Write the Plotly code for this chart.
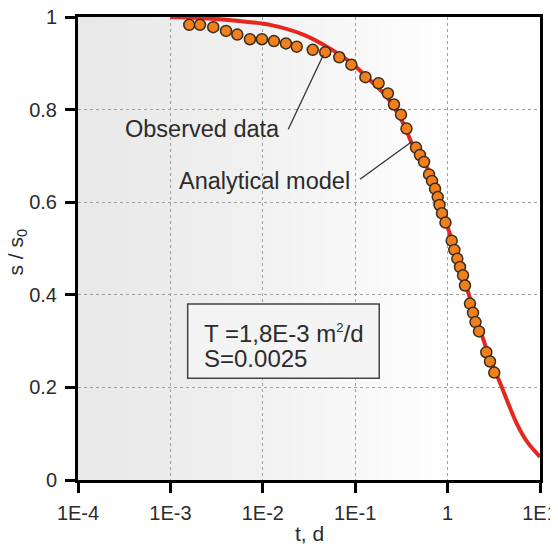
import plotly.graph_objects as go

# ---------------- data ----------------
t_obs = [1.60e-3, 2.09e-3, 2.91e-3, 4.00e-3, 5.30e-3, 7.26e-3, 9.79e-3, 1.32e-2,
         1.78e-2, 2.33e-2, 3.47e-2, 4.74e-2, 6.73e-2, 9.08e-2, 0.129, 0.179,
         0.226, 0.263, 0.313, 0.359, 0.455, 0.502, 0.556, 0.630, 0.678, 0.731,
         0.782, 0.817, 0.869, 0.948, 1.107, 1.183, 1.274, 1.361, 1.469, 1.542,
         1.746, 1.884, 2.004, 2.188, 2.624, 2.877, 3.199]
s_obs = [0.983, 0.983, 0.978, 0.970, 0.962, 0.952, 0.952, 0.948,
         0.943, 0.936, 0.929, 0.924, 0.913, 0.897, 0.870, 0.857,
         0.835, 0.811, 0.789, 0.759, 0.718, 0.702, 0.687, 0.660, 0.646, 0.629,
         0.611, 0.594, 0.576, 0.556, 0.517, 0.497, 0.478, 0.460, 0.442, 0.420,
         0.381, 0.361, 0.341, 0.321, 0.276, 0.256, 0.232]

t_model = [1.0e-3, 2.0e-3, 5.2e-3, 1.2e-2, 2.74e-2, 4.92e-2, 8.79e-2, 0.1445,
           0.219, 0.332, 0.426, 0.646, 0.897, 1.254, 1.61, 2.244, 2.877,
           3.69, 5.60, 7.41, 10.0]
s_model = [1.000, 0.998, 0.992, 0.983, 0.962, 0.936, 0.903, 0.864,
           0.828, 0.770, 0.720, 0.663, 0.576, 0.485, 0.415, 0.325, 0.262,
           0.210, 0.122, 0.080, 0.050]

x_tickvals = [1e-4, 1e-3, 1e-2, 1e-1, 1, 10]
x_ticktext = ["1E-4", "1E-3", "1E-2", "1E-1", "1", "1E1"]
y_tickvals = [0, 0.2, 0.4, 0.6, 0.8, 1]
y_ticktext = ["0", "0.2", "0.4", "0.6", "0.8", "1"]

FONT = "Liberation Sans, Arial, sans-serif"
TXT = "#2b2b2b"

fig = go.Figure()
fig.add_trace(go.Scatter(
    x=t_model, y=s_model, mode="lines",
    line=dict(color="#e3291f", width=4, shape="spline", smoothing=0.8),
    showlegend=False, hoverinfo="skip"))
fig.add_trace(go.Scatter(
    x=t_obs, y=s_obs, mode="markers",
    marker=dict(size=11, color="#f07f1c", line=dict(color="#3a2c1c", width=1.5)),
    showlegend=False))

# background gradient (grey at left fading to white)
shapes = []
n = 60
xend = 0.82
for i in range(n):
    x0 = xend * i / n
    x1 = xend * (i + 1) / n + 0.002
    c = int(round(233 + (255 - 233) * (i / (n - 1)) ** 1.3))
    shapes.append(dict(type="rect", xref="paper", yref="paper",
                       x0=x0, x1=x1, y0=0, y1=1, layer="below",
                       line=dict(width=0), fillcolor=f"rgb({c},{c},{c})"))

# parameter box
shapes.append(dict(type="rect", xref="paper", yref="paper",
                   x0=0.2374, x1=0.652, y0=0.2197, y1=0.380,
                   line=dict(color="#444444", width=1.5), fillcolor="#f4f4f4",
                   layer="above"))
# leader lines
shapes.append(dict(type="line", xref="paper", yref="paper",
                   x0=0.4552, y0=0.7575, x1=0.531, y1=0.918,
                   line=dict(color="#333333", width=1.3)))
shapes.append(dict(type="line", xref="paper", yref="paper",
                   x0=0.6104, y0=0.6495, x1=0.7223, y1=0.7307,
                   line=dict(color="#333333", width=1.3)))

annotations = [
    dict(text="Observed data", xref="paper", yref="paper", x=0.2684, y=0.7575,
         xanchor="center", yanchor="middle", showarrow=False,
         font=dict(family=FONT, size=23.5, color=TXT)),
    dict(text="Analytical model", xref="paper", yref="paper", x=0.4026, y=0.6464,
         xanchor="center", yanchor="middle", showarrow=False,
         font=dict(family=FONT, size=23.5, color=TXT)),
    dict(text="T =1,8E-3 m<sup><span style='font-size:13px'>2</span></sup>/d",
         xref="paper", yref="paper",
         x=0.268, y=0.3168, xanchor="left", yanchor="middle", showarrow=False,
         font=dict(family=FONT, size=24, color=TXT)),
    dict(text="S=0.0025", xref="paper", yref="paper",
         x=0.268, y=0.2629, xanchor="left", yanchor="middle", showarrow=False,
         font=dict(family=FONT, size=24, color=TXT)),
    dict(text="s / s<sub>0</sub>", xref="paper", yref="paper",
         x=-0.133, y=0.4924, xanchor="center", yanchor="middle",
         textangle=-90, showarrow=False,
         font=dict(family=FONT, size=21, color=TXT)),
    dict(text="t, d", xref="paper", yref="paper",
         x=0.5, y=-0.1166, xanchor="center", yanchor="middle",
         showarrow=False, font=dict(family=FONT, size=21, color=TXT)),
]

fig.update_layout(
    width=550, height=538,
    margin=dict(l=70, r=18, t=9, b=66, autoexpand=False),
    paper_bgcolor="white", plot_bgcolor="white",
    shapes=shapes, annotations=annotations,
    font=dict(family=FONT, color=TXT),
    xaxis=dict(type="log", range=[-4, 1], tickvals=x_tickvals, ticktext=x_ticktext,
               ticks="outside", ticklen=10, tickwidth=3, tickcolor="black",
               showline=True, linewidth=3, linecolor="black", mirror=True,
               showgrid=True, gridcolor="#a0a0a0", griddash="dot", gridwidth=1,
               zeroline=False, tickfont=dict(size=20, color=TXT),
               ticklabelstandoff=3, automargin=False, ticklabeloverflow="allow"),
    yaxis=dict(range=[0, 1], tickvals=y_tickvals, ticktext=y_ticktext,
               ticks="outside", ticklen=10, tickwidth=3, tickcolor="black",
               showline=True, linewidth=3, linecolor="black", mirror=True,
               showgrid=True, gridcolor="#a0a0a0", griddash="dot", gridwidth=1,
               zeroline=False, tickfont=dict(size=20, color=TXT),
               ticklabelstandoff=4, automargin=False, ticklabeloverflow="allow"),
)

fig.write_html("out.html")
